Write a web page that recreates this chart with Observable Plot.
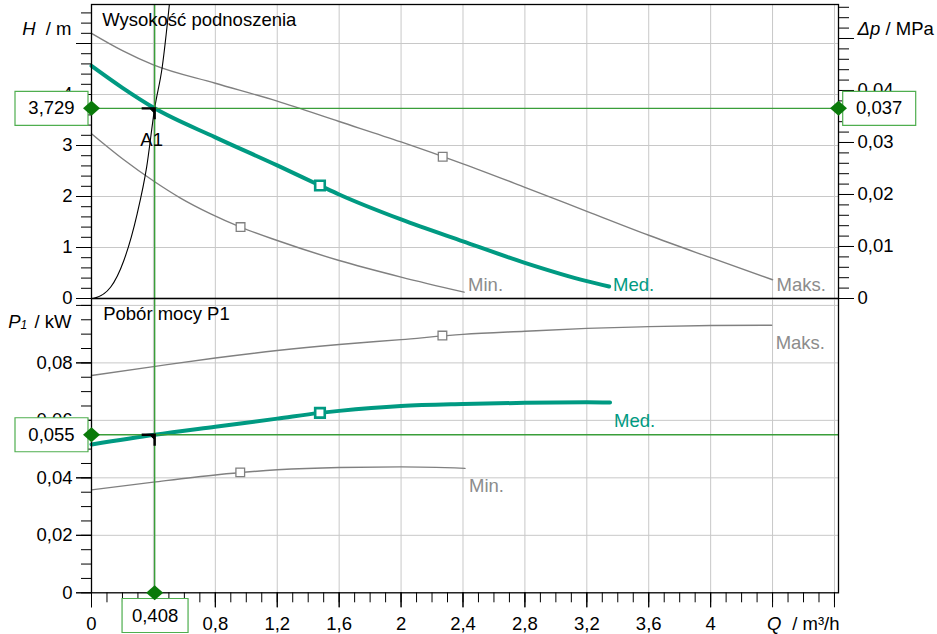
<!DOCTYPE html>
<html><head><meta charset="utf-8">
<script src="https://cdn.jsdelivr.net/npm/d3@7"></script>
<script src="https://cdn.jsdelivr.net/npm/@observablehq/plot@0.6"></script>
<style>
body{margin:0;background:#fff;}
#chart{position:relative;width:937px;height:634px;background:#fff;}
#chart svg{position:absolute;left:0;top:0;}
</style></head><body><div id="chart"></div>
<script>
// ---------- data ----------
const seriesNames = ["Min.", "Med.", "Maks."];
// Head H [m] vs flow Q [m³/h]
const headMin = [[0,3.23],[0.2,2.74],[0.408,2.29],[0.575,1.97],[0.77,1.66],[0.963,1.40],[1.2,1.137],[1.6,0.745],[2.0,0.42],[2.407,0.124]];
const headMed = [[0,4.56],[0.2,4.13],[0.408,3.729],[0.8,3.16],[1.2,2.61],[1.476,2.216],[1.6,2.04],[2.0,1.55],[2.4,1.12],[2.8,0.70],[3.2,0.34],[3.344,0.235]];
const headMax = [[0,5.2],[0.2,4.86],[0.4,4.58],[0.8,4.22],[1.2,3.87],[1.6,3.47],[2.0,3.07],[2.4,2.64],[2.8,2.18],[3.2,1.71],[3.6,1.24],[4.0,0.80],[4.40,0.367]];
// System curve
const systemCurve = [[0,0],[0.015,0.006],[0.123,0.22],[0.209,0.745],[0.295,1.66],[0.356,2.57],[0.408,3.729],[0.457,4.54],[0.506,5.85]];
// Power P1 [kW] vs Q
const powerMin = [[0,0.0358],[0.4,0.0385],[0.8,0.0410],[1.2,0.0428],[1.6,0.0436],[2.0,0.0438],[2.413,0.0433]];
const powerMed = [[0,0.0516],[0.408,0.0550],[0.8,0.0578],[1.2,0.0606],[1.476,0.0626],[1.6,0.0633],[2.0,0.0650],[2.4,0.0657],[2.8,0.0661],[3.2,0.0663],[3.35,0.0662]];
const powerMax = [[0,0.0756],[0.4,0.0787],[0.8,0.0817],[1.2,0.0843],[1.6,0.0864],[2.0,0.0881],[2.4,0.0899],[2.8,0.0910],[3.2,0.0920],[3.6,0.0926],[4.0,0.0930],[4.394,0.0931]];
// square markers (min, med, max)
const headMarkers = [[0.963,1.40],[1.476,2.216],[2.269,2.78]];
const powerMarkers = [[0.961,0.0419],[1.476,0.0626],[2.267,0.0895]];
// operating point
const opQ = 0.408, opH = 3.729, opDp = 0.037, opP = 0.055;
// ticks
const qLabels = [0,0.4,0.8,1.2,1.6,2,2.4,2.8,3.2,3.6,4];
const qMajor = [0,0.4,0.8,1.2,1.6,2,2.4,2.8,3.2,3.6,4,4.4,4.8];
const qMinor = d3.range(0, 4.85, 0.1);
const qGrid = [0.4,0.8,1.2,1.6,2,2.4,2.8,3.2,3.6,4,4.4,4.8];
const hLabels = [0,1,2,3,4];
const hMajor = [0,1,2,3,4,5];
const hMinor = d3.range(0, 5.65, 0.2);
const hGrid = [1,2,3,4,5];
const dpLabels = [0,0.01,0.02,0.03,0.04];
const dpMajor = [0,0.01,0.02,0.03,0.04,0.05];
const dpMinor = d3.range(0, 0.0565, 0.002);
const pLabels = [0,0.02,0.04,0.06,0.08];
const pMajor = [0,0.02,0.04,0.06,0.08,0.1];
const pMinor = d3.range(0, 0.1005, 0.005);
const pGrid = [0.02,0.04,0.06,0.08,0.1];
const M_PER_MPA = 101.97;

// ---------- styles ----------
const TEAL = "#009a82", GRAY = "#808080", LGRAY = "#8c8c8c", GRID = "#c8c8c8";
const GREEN = "#3a9e3a", DKGREEN = "#0a7a0a", BOXGREEN = "#4fae4f";
const fmt = d => String(+(+d).toFixed(4)).replace(".", ",");
const fmt3 = d => d.toFixed(3).replace(".", ",");
const X = d => d[0], Y = d => d[1];

const diamond = {draw(c){c.moveTo(0,-7.5);c.lineTo(8.5,0);c.lineTo(0,7.5);c.lineTo(-8.5,0);c.closePath();}};
const boxWide = {draw(c){c.rect(-36.5,-17,73,34);}};
const boxNarrow = {draw(c){c.rect(-33,-17,66,34);}};
const hook = {draw(c){c.moveTo(-13,0);c.lineTo(0,0);c.lineTo(0,11);}};
const corner = {draw(c){c.moveTo(-5,0);c.lineTo(0,0);c.lineTo(0,5);c.closePath();}};

const svgStyle = {background:"transparent", fontFamily:"'Liberation Sans', Arial, sans-serif", fontSize:"18.5px", color:"black", overflow:"visible"};
const common = {width:937, height:634, marginLeft:91, marginRight:99, style: svgStyle};
const T = {lineAnchor: "middle", fill: "black"};

const series = [
  {name: seriesNames[0], head: headMin, power: powerMin, hm: headMarkers[0], pm: powerMarkers[0], color: GRAY, label: LGRAY, w: 1.4, r: 4.9, sw: 1.3},
  {name: seriesNames[1], head: headMed, power: powerMed, hm: headMarkers[1], pm: powerMarkers[1], color: TEAL, label: TEAL, w: 4, r: 5.4, sw: 2.6},
  {name: seriesNames[2], head: headMax, power: powerMax, hm: headMarkers[2], pm: powerMarkers[2], color: GRAY, label: LGRAY, w: 1.4, r: 4.9, sw: 1.3}
];

// ---------- top panel: head ----------
const topPlot = Plot.plot({
  ...common, marginTop: 4, marginBottom: 336,
  x: {domain: [0, 4.826], axis: null, label: null},
  y: {domain: [0, 5.765], axis: null, label: null},
  marks: [
    Plot.gridX(qGrid, {stroke: GRID, strokeOpacity: 1}),
    Plot.gridY(hGrid, {stroke: GRID, strokeOpacity: 1}),
    ...series.map(s => Plot.line(s.head, {x: X, y: Y, stroke: s.color, strokeWidth: s.w, curve: "monotone-x"})),
    Plot.line(systemCurve, {x: X, y: Y, stroke: "black", strokeWidth: 1.1, curve: "monotone-x", clip: true}),
    Plot.ruleX([opQ], {stroke: GREEN, strokeWidth: 1.4}),
    Plot.ruleY([opH], {stroke: GREEN, strokeWidth: 1.4}),
    Plot.dot([[opQ, opH]], {x: X, y: Y, symbol: hook, r: 5, fill: "none", stroke: "black", strokeWidth: 2.4}),
    Plot.dot([[opQ, opH]], {x: X, y: Y, symbol: corner, r: 5, fill: "black", stroke: "black", strokeWidth: 1}),
    Plot.text([[opQ, opH]], {x: X, y: Y, text: () => "A1", dx: -3, dy: 31.4, textAnchor: "middle", ...T}),
    ...series.map(s => Plot.dot([s.hm], {x: X, y: Y, symbol: "square", r: s.r, fill: "white", stroke: s.color, strokeWidth: s.sw})),
    ...series.map(s => Plot.text([s.head[s.head.length - 1]], {x: X, frameAnchor: "bottom", text: () => s.name, textAnchor: "start", dx: 4, dy: -13.8, ...T, fill: s.label})),
    Plot.text(["Wysokość podnoszenia"], {frameAnchor: "top-left", text: d => d, textAnchor: "start", dx: 10.7, dy: 15.5, ...T}),
    Plot.frame({stroke: "black", strokeWidth: 1.3}),
    Plot.axisY(hMinor, {anchor: "left", tickSize: 10, stroke: "black", fill: "none", label: null}),
    Plot.axisY(hMajor, {anchor: "left", tickSize: 15, stroke: "black", fill: "none", label: null}),
    Plot.axisY(hLabels, {anchor: "left", tickSize: 15, tickPadding: 4, tickFormat: fmt, stroke: "black", fill: "black", label: null}),
    Plot.axisY(dpMinor.map(d => d * M_PER_MPA), {anchor: "right", tickSize: 10, stroke: "black", fill: "none", label: null}),
    Plot.axisY(dpMajor.map(d => d * M_PER_MPA), {anchor: "right", tickSize: 15, stroke: "black", fill: "none", label: null}),
    Plot.axisY(dpLabels.map(d => d * M_PER_MPA), {anchor: "right", tickSize: 15, tickPadding: 4, tickFormat: h => fmt(+(h / M_PER_MPA).toFixed(3)), stroke: "black", fill: "black", label: null}),
    Plot.text(["H"], {frameAnchor: "top-left", text: d => d, textAnchor: "end", dx: -56, dy: 24.2, fontStyle: "italic", ...T}),
    Plot.text(["/ m"], {frameAnchor: "top-left", text: d => d, textAnchor: "end", dx: -20, dy: 24.2, ...T}),
    Plot.text(["Δp"], {frameAnchor: "top-right", text: d => d, textAnchor: "start", dx: 19, dy: 24.6, fontStyle: "italic", ...T}),
    Plot.text(["/ MPa"], {frameAnchor: "top-right", text: d => d, textAnchor: "start", dx: 47, dy: 24.6, ...T}),
    // operating point value boxes
    Plot.dot([opH], {y: d => d, frameAnchor: "left", dx: -40, symbol: boxWide, r: 5, fill: "white", stroke: BOXGREEN, strokeWidth: 1.2}),
    Plot.text([opH], {y: d => d, frameAnchor: "left", dx: -40, text: d => fmt3(d), textAnchor: "middle", ...T}),
    Plot.dot([opH], {y: d => d, frameAnchor: "right", dx: 40.7, symbol: boxWide, r: 5, fill: "white", stroke: BOXGREEN, strokeWidth: 1.2}),
    Plot.text([opH], {y: d => d, frameAnchor: "right", dx: 40.7, text: () => fmt3(opDp), textAnchor: "middle", ...T}),
    Plot.dot([opH], {y: d => d, frameAnchor: "left", symbol: diamond, r: 5, fill: DKGREEN, stroke: "none"}),
    Plot.dot([opH], {y: d => d, frameAnchor: "right", symbol: diamond, r: 5, fill: DKGREEN, stroke: "none"})
  ]
});

// ---------- bottom panel: power ----------
const bottomPlot = Plot.plot({
  ...common, marginTop: 298, marginBottom: 41.7,
  x: {domain: [0, 4.826], axis: null, label: null},
  y: {domain: [0, 0.1024], axis: null, label: null},
  marks: [
    Plot.gridX(qGrid, {stroke: GRID, strokeOpacity: 1}),
    Plot.gridY(pGrid, {stroke: GRID, strokeOpacity: 1}),
    ...series.map(s => Plot.line(s.power, {x: X, y: Y, stroke: s.color, strokeWidth: s.w, curve: "monotone-x"})),
    Plot.ruleX([opQ], {stroke: GREEN, strokeWidth: 1.4}),
    Plot.ruleY([opP], {stroke: GREEN, strokeWidth: 1.4}),
    Plot.dot([[opQ, opP]], {x: X, y: Y, symbol: hook, r: 5, fill: "none", stroke: "black", strokeWidth: 2.4}),
    Plot.dot([[opQ, opP]], {x: X, y: Y, symbol: corner, r: 5, fill: "black", stroke: "black", strokeWidth: 1}),
    ...series.map(s => Plot.dot([s.pm], {x: X, y: Y, symbol: "square", r: s.r, fill: "white", stroke: s.color, strokeWidth: s.sw})),
    ...series.map(s => Plot.text([s.power[s.power.length - 1]], {x: X, y: Y, text: () => s.name, textAnchor: "start", dx: 4, dy: 18.2, ...T, fill: s.label})),
    Plot.text(["Pobór mocy P1"], {frameAnchor: "top-left", text: d => d, textAnchor: "start", dx: 11.7, dy: 15.6, ...T}),
    Plot.frame({stroke: "black", strokeWidth: 1.3}),
    Plot.axisY(pMinor, {anchor: "left", tickSize: 10, stroke: "black", fill: "none", label: null}),
    Plot.axisY(pMajor, {anchor: "left", tickSize: 15, stroke: "black", fill: "none", label: null}),
    Plot.axisY(pLabels, {anchor: "left", tickSize: 15, tickPadding: 4, tickFormat: fmt, stroke: "black", fill: "black", label: null}),
    Plot.axisX(qMinor, {anchor: "bottom", tickSize: 10, stroke: "black", fill: "none", label: null}),
    Plot.axisX(qMajor, {anchor: "bottom", tickSize: 15, stroke: "black", fill: "none", label: null}),
    Plot.axisX(qLabels, {anchor: "bottom", tickSize: 15, tickPadding: 9, tickFormat: fmt, stroke: "black", fill: "black", label: null}),
    Plot.text(["P"], {frameAnchor: "top-left", text: d => d, textAnchor: "end", dx: -71, dy: 23.6, fontStyle: "italic", ...T}),
    Plot.text(["1"], {frameAnchor: "top-left", text: d => d, textAnchor: "start", dx: -71, dy: 27, fontSize: 12, fontStyle: "italic", ...T}),
    Plot.text(["/ kW"], {frameAnchor: "top-left", text: d => d, textAnchor: "end", dx: -20, dy: 23.6, ...T}),
    Plot.text(["Q"], {frameAnchor: "bottom-right", text: d => d, textAnchor: "end", dx: -57, dy: 31, fontStyle: "italic", ...T}),
    Plot.text(["/ m³/h"], {frameAnchor: "bottom-right", text: d => d, textAnchor: "end", dx: 1, dy: 31, ...T}),
    // operating point value boxes
    Plot.dot([opP], {y: d => d, frameAnchor: "left", dx: -40, symbol: boxWide, r: 5, fill: "white", stroke: BOXGREEN, strokeWidth: 1.2}),
    Plot.text([opP], {y: d => d, frameAnchor: "left", dx: -40, text: d => fmt3(d), textAnchor: "middle", ...T}),
    Plot.dot([opQ], {x: d => d, frameAnchor: "bottom", dx: 0.4, dy: 22.7, symbol: boxNarrow, r: 5, fill: "white", stroke: BOXGREEN, strokeWidth: 1.2}),
    Plot.text([opQ], {x: d => d, frameAnchor: "bottom", dx: 0.4, dy: 23.5, text: d => fmt3(d), textAnchor: "middle", ...T}),
    Plot.dot([opP], {y: d => d, frameAnchor: "left", symbol: diamond, r: 5, fill: DKGREEN, stroke: "none"}),
    Plot.dot([opQ], {x: d => d, frameAnchor: "bottom", symbol: diamond, r: 5, fill: DKGREEN, stroke: "none"})
  ]
});

const chart = document.getElementById("chart");
chart.append(topPlot);
chart.append(bottomPlot);
</script>
</body></html>
